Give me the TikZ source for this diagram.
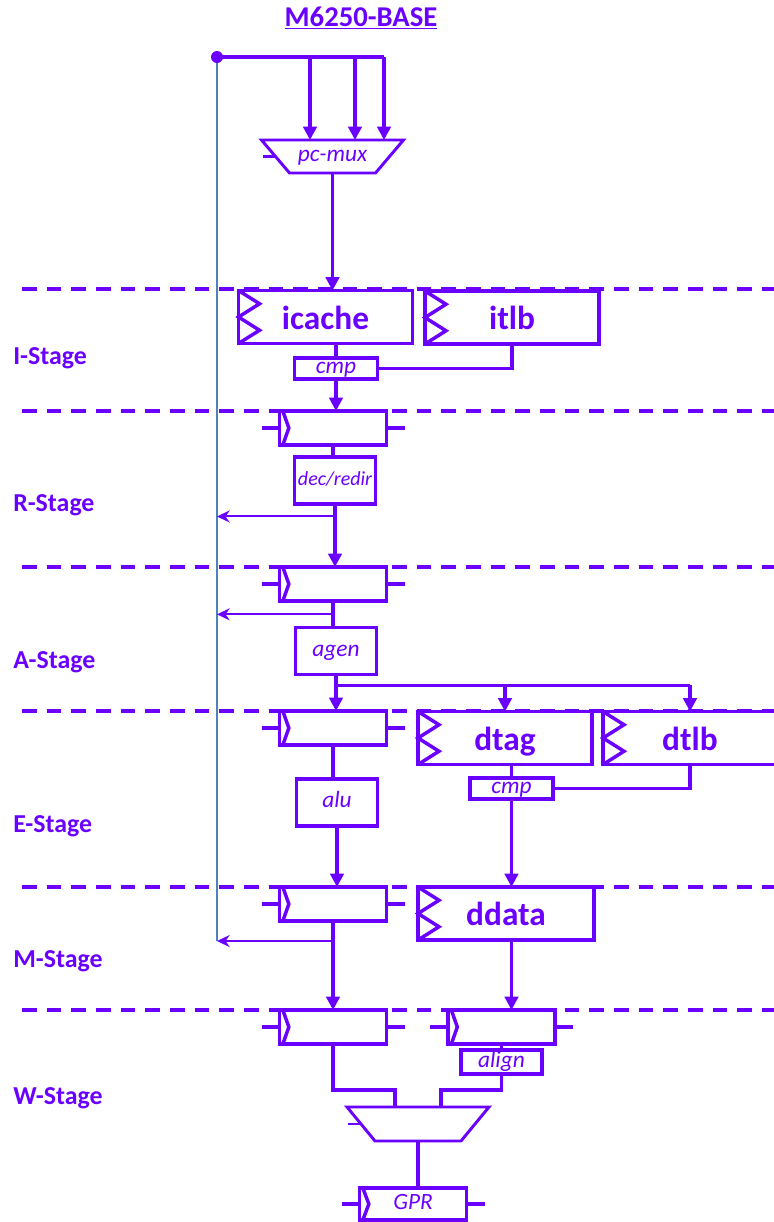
\documentclass[tikz,border=0pt]{standalone}
\usepackage{fontspec}
\setmainfont{Carlito}
\usetikzlibrary{arrows.meta,calc}
\definecolor{vio}{HTML}{6A00FF}
\definecolor{fbblue}{HTML}{4F81BD}
\tikzset{
  wire/.style={vio,line width=2.6pt},
  fwd/.style={wire,-{Triangle[length=10pt,width=10pt]}},
  back/.style={vio,line width=1.5pt,-{Stealth[length=9.5pt,width=9pt]}},
  stageline/.style={vio,line width=2.6pt,dash pattern=on 11pt off 7.5pt},
  stagename/.style={text=vio,anchor=west,inner sep=0pt,font=\fontsize{19.4}{23}\selectfont\bfseries},
  pipereg/.style={draw=vio,line width=2.6pt,fill=white,outer sep=0pt,inner sep=0pt,
    minimum width=80.25pt,minimum height=25.5pt,text=vio,text height=12pt,text depth=4pt,
    font=\fontsize{17.5}{21}\selectfont\itshape},
  membox/.style={draw=vio,line width=2.6pt,fill=white,outer sep=0pt,inner sep=0pt,
    minimum width=130.5pt,minimum height=39.75pt,text=vio,text height=21pt,text depth=3pt,
    font=\fontsize{25}{30}\selectfont\bfseries},
  logic/.style={draw=vio,line width=2.6pt,fill=white,outer sep=0pt,inner sep=0pt,
    minimum width=61pt,minimum height=35pt,text=vio,text height=12pt,text depth=4pt,
    font=\fontsize{17.5}{21}\selectfont\itshape},
  cmpbox/.style={logic,minimum width=62.25pt,minimum height=16pt},
  muxbox/.style={inner sep=0pt,outer sep=0pt,minimum width=106.5pt,minimum height=24.75pt,
    text=vio,text height=12pt,text depth=4pt,font=\fontsize{17.5}{21}\selectfont\itshape},
}
\begin{document}
\begin{tikzpicture}[x=0.75pt,y=-0.75pt]
    \useasboundingbox (0,0) rectangle (774,1222);
    % stage borders
    \foreach \y in {289,411,567,711,887,1010}
        \draw[stageline] (22,\y) -- (774,\y);
    \node[stagename] (lI) at (13,358) {I-Stage};
    \node[stagename] (lR) at (13,505) {R-Stage};
    \node[stagename] (lA) at (13,662) {A-Stage};
    \node[stagename] (lE) at (13,826) {E-Stage};
    \node[stagename] (lM) at (13,961) {M-Stage};
    \node[stagename] (lW) at (13,1098) {W-Stage};
    \node[text=vio,font=\fontsize{21.5}{26}\selectfont\bfseries] (title) at (361,18) {\underline{M6250-BASE}};
    % fetch
    \coordinate (pc) at (217,57);
    \coordinate (in1) at (310,57);
    \coordinate (in2) at (355,57);
    \coordinate (in3) at (384,57);
    \node[muxbox] (pcmux) at (332.5,156.5) {pc-mux};
    \node[membox] (icache) at (325.5,317) {icache};
    \node[membox] (itlb) at (512,317.5) {itlb};
    \node[cmpbox] (cmp1) at (336,368.5) {cmp};
    % pipeline registers
    \node[pipereg] (rR) at (333,428) {};
    \node[pipereg] (rA) at (333,584) {};
    \node[pipereg] (rE) at (333,728) {};
    \node[pipereg] (rM) at (333,904) {};
    \node[pipereg] (rW) at (333,1027) {};
    \node[pipereg] (rW2) at (501.5,1027) {};
    \node[pipereg,minimum height=24pt] (gpr) at (413,1204) {GPR};
    % logic
    \node[logic,font=\fontsize{15}{18}\selectfont\itshape] (dec) at (335,480.5) {dec/redir};
    \node[logic] (agen) at (336,651) {agen};
    \node[logic] (alu) at (337,802.5) {alu};
    \node[membox] (dtag) at (505,738) {dtag};
    \node[membox] (dtlb) at (690,738) {dtlb};
    \node[cmpbox] (cmp2) at (511.5,788.5) {cmp};
    \node[membox,minimum width=132pt] (ddata) at (506,913.5) {ddata};
    \node[logic,minimum height=18pt] (align) at (501.5,1062) {align};
    \node[muxbox,minimum height=25.5pt] (wmux) at (418,1124) {};
    % muxes
    \foreach \m in {pcmux,wmux} {
        \draw[vio,line width=2.2pt,line join=miter] (\m.north west) -- (\m.north east)
            -- ([xshift=-21pt]\m.south east) -- ([xshift=21pt]\m.south west) -- cycle;
        \draw[vio,line width=2.2pt] ([xshift=10pt]\m.west) -- ([xshift=1pt]\m.west);
    }
    % clock marks
    \foreach \m in {icache,itlb,dtag,dtlb,ddata}
        \draw[wire] (\m.north west) -- ([xshift=15.75pt]$(\m.north west)!0.25!(\m.south west)$)
            -- (\m.west) -- ([xshift=15.75pt]$(\m.north west)!0.75!(\m.south west)$) -- (\m.south west);
    \foreach \r in {rR,rA,rE,rM,rW,rW2,gpr} {
        \draw[wire] ([xshift=2.5pt]\r.north west) -- ([xshift=7pt]\r.west) -- ([xshift=2.5pt]\r.south west);
        \draw[wire] (\r.west) -- ++(-13.5pt,0);
        \draw[wire] (\r.east) -- ++(13.5pt,0);
    }
    % feedback to pc
    \coordinate (fbR) at ($(dec.south)!0.2!(rA.north)$);
    \coordinate (fbA) at ($(rA.south)!0.5!(agen.north)$);
    \coordinate (fbM) at ($(rM.south)!0.225!(rW.north)$);
    \draw[fbblue,line width=1.3pt] (pc) -- (pc |- fbM);
    \draw[back] (fbR) -- (fbR -| pc);
    \draw[back] (fbA) -- (fbA -| pc);
    \draw[back] (fbM) -- (fbM -| pc);
    \draw[wire] (pc) -- (in3);
    \fill[vio] (pc) circle (4.5pt);
    \foreach \i in {in1,in2,in3}
        \draw[fwd] (\i) -- (\i |- pcmux.north);
    % datapath
    \draw[fwd] (pcmux.south) -- (pcmux.south |- icache.north);
    \draw[wire] (cmp1.north |- icache.south) -- (cmp1.north);
    \draw[wire] (itlb.south) |- (cmp1.east);
    \draw[fwd] (cmp1.south) -- (cmp1.south |- rR.north);
    \draw[wire] (rR.south) -- (rR.south |- dec.north);
    \draw[fwd] (dec.south) -- (dec.south |- rA.north);
    \draw[wire] (rA.south) -- (rA.south |- agen.north);
    \coordinate (split) at ($(agen.south)!0.3!(rE.north)$);
    \draw[fwd] (agen.south) -- (agen.south |- rE.north);
    \draw[wire] (split) -- (split -| dtlb.north);
    \draw[fwd] (split -| dtag.north) -- (dtag.north);
    \draw[fwd] (split -| dtlb.north) -- (dtlb.north);
    \draw[wire] (rE.south) -- (rE.south |- alu.north);
    \draw[fwd] (alu.south) -- (alu.south |- rM.north);
    \draw[wire] (cmp2.north |- dtag.south) -- (cmp2.north);
    \draw[wire] (dtlb.south) |- (cmp2.east);
    \draw[fwd] (cmp2.south) -- (cmp2.south |- ddata.north);
    \draw[fwd] (rM.south) -- (rW.north);
    \draw[fwd] (cmp2.south |- ddata.south) -- (cmp2.south |- rW2.north);
    \draw[wire] (rW2.south) -- (align.north);
    \draw[wire] (rW.south) |- ([xshift=-17.25pt,yshift=12.75pt]wmux.north) -- ([xshift=-17.25pt]wmux.north);
    \draw[wire] (align.south) |- ([xshift=17.25pt,yshift=12.75pt]wmux.north) -- ([xshift=17.25pt]wmux.north);
    \draw[wire] (wmux.south) -- (wmux.south |- gpr.north);
\end{tikzpicture}
\end{document}
